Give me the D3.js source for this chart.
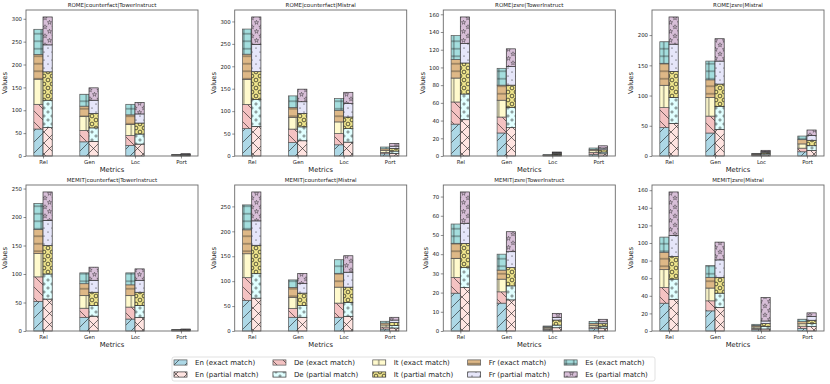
<!DOCTYPE html>
<html>
<head>
<meta charset="utf-8">
<script src="https://cdn.jsdelivr.net/npm/d3@7"></script>
<style>
  body { margin: 0; background: #fff; }
  text { font-family: "DejaVu Sans", sans-serif; }
</style>
</head>
<body>
<div id="cont"></div>
<script>
var metrics = ["Rel", "Gen", "Loc", "Port"];
var langs = ["En", "De", "It", "Fr", "Es"];
var titles = [
  "ROME|counterfact|TowerInstruct", "ROME|counterfact|Mistral",
  "ROME|zsre|TowerInstruct", "ROME|zsre|Mistral",
  "MEMIT|counterfact|TowerInstruct", "MEMIT|counterfact|Mistral",
  "MEMIT|zsre|TowerInstruct", "MEMIT|zsre|Mistral"
];
var yStep = [50, 50, 20, 50, 50, 50, 10, 20];

// rows = Rel, Gen, Loc, Port ; columns = En, De, It, Fr, Es (stacked bottom->top)
var romeCfTowerExact   = [[59, 54, 55, 54, 55], [31, 25, 30, 23, 26], [23, 22, 24, 21, 23], [0.7, 0.7, 0.7, 0.7, 0.7]];
var romeCfTowerPartial = [[62, 60, 62, 59, 61], [32, 29.5, 31.5, 29, 27], [26, 22, 24, 20, 25], [1, 1, 1, 1, 1]];
var romeCfMistralExact   = [[61, 54, 56, 56, 56], [30, 30, 26, 22, 26], [25, 25, 26, 26, 26], [5, 3, 4, 4, 4]];
var romeCfMistralPartial = [[66, 60, 62, 61, 61], [34, 31, 30, 26, 28], [31, 30, 26, 30, 25], [6, 5, 6, 5, 6]];
var romeZsreTowerExact   = [[36, 25, 27, 21, 27], [26, 18, 19, 17, 19], [0.3, 0.3, 0.3, 0.3, 0.3], [2, 2, 2, 1.5, 1.5]];
var romeZsreTowerPartial = [[41, 29, 35, 22, 30], [32, 23, 25, 21, 20], [1, 0.8, 1, 0.8, 0.9], [2.5, 2, 2.5, 2, 2.5]];
var romeZsreMistralExact   = [[47, 33, 37, 36, 36], [38, 28, 31, 29, 31], [0.9, 0.9, 0.9, 0.9, 0.8], [7, 6, 7, 7, 6]];
var romeZsreMistralPartial = [[54, 43, 43, 45, 45], [44, 38, 37, 38, 37], [1.9, 1.9, 1.8, 1.9, 1.9], [9, 8, 9, 8, 9]];
var memitCfTowerExact   = [[52, 43, 41, 42, 46], [24, 16, 22, 21, 19], [21, 21, 20, 19, 21], [0.5, 0.5, 0.5, 0.5, 0.5]];
var memitCfTowerPartial = [[56, 44, 50, 44, 50], [26, 19, 23, 21, 23], [24, 21, 23, 21, 20], [0.7, 0.7, 0.7, 0.7, 0.7]];
var memitCfMistralExact   = [[61, 46, 48, 48, 50], [27.5, 18, 22, 20, 15], [27.5, 28.5, 32, 27, 28], [4, 4, 4, 4, 3.5]];
var memitCfMistralPartial = [[66, 49, 57, 49, 58], [27.5, 23.5, 25, 19, 20.5], [29.5, 28, 30.5, 30, 33], [6, 5, 6, 5, 5.5]];
var memitZsreTowerExact   = [[19.7, 8.2, 9.9, 7.8, 10.1], [14.5, 5.9, 6.6, 4.7, 8.3], [0.5, 0.5, 0.6, 0.5, 0.5], [1.2, 0.8, 1, 1, 1]];
var memitZsreTowerPartial = [[22.6, 10.4, 12.6, 10.5, 16.3], [16.2, 7.3, 9.5, 8.3, 10.4], [1.7, 1.4, 2.6, 1.3, 2.2], [1.5, 1, 1.3, 1, 1.3]];
var memitZsreMistralExact   = [[31.6, 17.9, 20.2, 19.8, 17.2], [22.9, 11.4, 14.5, 12.2, 13.3], [1.6, 1.4, 1.6, 1.5, 1.5], [3, 2.5, 2.7, 2.4, 2.8]];
var memitZsreMistralPartial = [[36, 23, 25.6, 24, 49.4], [26.7, 16.3, 18, 19.8, 20.2], [2.3, 3, 3.1, 3, 26.6], [5, 3.4, 3.8, 4.2, 4.2]];

var exactData = [romeCfTowerExact, romeCfMistralExact, romeZsreTowerExact, romeZsreMistralExact,
                 memitCfTowerExact, memitCfMistralExact, memitZsreTowerExact, memitZsreMistralExact];
var partialData = [romeCfTowerPartial, romeCfMistralPartial, romeZsreTowerPartial, romeZsreMistralPartial,
                   memitCfTowerPartial, memitCfMistralPartial, memitZsreTowerPartial, memitZsreMistralPartial];

// style per language
var exactColors   = ["#add8e6", "#f4c2c2", "#fffacd", "#deb887", "#a4dede"];
var partialColors = ["#ffe4e1", "#e0ffff", "#f0e68c", "#e6e6fa", "#d8bfd8"];
var exactHatch   = ["/", "\\", "|", "-", "+"];
var partialHatch = ["x", "o", "O", ".", "*"];

var W = 830, H = 384;
var panelLeft = [26, 234.7, 443.3, 652];
var panelTop = [10, 185];
var pw = 172, ph = 146;
var barW = 0.2;

var svg = d3.select("#cont").append("svg")
  .attr("width", W).attr("height", H);

var defs = svg.append("defs");
var hc = "#1a1a1a";

function makePattern(id, color, hatch) {
  var t = (hatch == "/" || hatch == "\\" || hatch == "x") ? 11
        : (hatch == "*") ? 9
        : (hatch == "o" || hatch == "O" || hatch == ".") ? 8 : 7.5;
  var p = defs.append("pattern").attr("id", id)
    .attr("patternUnits", "userSpaceOnUse")
    .attr("width", t).attr("height", t);
  p.append("rect").attr("width", t).attr("height", t).attr("fill", color);
  var g = p.append("g").attr("stroke", hc).attr("stroke-width", 0.6).attr("fill", "none");
  var fwd = "M0," + t + "L" + t + ",0M" + (-t / 2) + "," + (t / 2) + "L" + (t / 2) + "," + (-t / 2) +
            "M" + (t / 2) + "," + (t * 1.5) + "L" + (t * 1.5) + "," + (t / 2);
  var bwd = "M0,0L" + t + "," + t + "M" + (-t / 2) + "," + (t / 2) + "L" + (t / 2) + "," + (t * 1.5) +
            "M" + (t / 2) + "," + (-t / 2) + "L" + (t * 1.5) + "," + (t / 2);
  var pts = [[0, 0], [t, 0], [0, t], [t, t], [t / 2, t / 2]];
  if (hatch == "/") g.append("path").attr("d", fwd);
  else if (hatch == "\\") g.append("path").attr("d", bwd);
  else if (hatch == "x") g.append("path").attr("d", fwd + bwd);
  else if (hatch == "|") g.append("path").attr("d", "M" + t / 2 + ",0V" + t);
  else if (hatch == "-") g.append("path").attr("d", "M0," + t / 2 + "H" + t);
  else if (hatch == "+") g.append("path").attr("d", "M" + t / 2 + ",0V" + t + "M0," + t / 2 + "H" + t);
  else if (hatch == "o" || hatch == "O") {
    pts.forEach(function(q) {
      g.append("circle").attr("cx", q[0]).attr("cy", q[1]).attr("r", hatch == "o" ? 1.1 : 1.9)
        .attr("stroke-width", hatch == "o" ? 0.5 : 0.7);
    });
  } else if (hatch == ".") {
    pts.forEach(function(q) {
      g.append("circle").attr("cx", q[0]).attr("cy", q[1]).attr("r", 0.55).attr("fill", hc).attr("stroke", "none");
    });
  } else if (hatch == "*") {
    var star = d3.symbol().type(d3.symbolStar).size(6)();
    pts.forEach(function(q) {
      g.append("path").attr("d", star).attr("stroke-width", 0.4)
        .attr("transform", "translate(" + q[0] + "," + q[1] + ")");
    });
  }
}

langs.forEach(function(l, i) {
  makePattern("ex" + i, exactColors[i], exactHatch[i]);
  makePattern("pa" + i, partialColors[i], partialHatch[i]);
});

for (var p = 0; p < 8; p++) {
  var col = p % 4, row = Math.floor(p / 4);
  var x0 = panelLeft[col], y0 = panelTop[row];
  var ex = exactData[p], pa = partialData[p];
  var maxV = d3.max(ex.concat(pa), function(r) { return d3.sum(r); });

  var x = d3.scaleLinear().domain([-0.37, 3.37]).range([x0, x0 + pw]);
  var y = d3.scaleLinear().domain([0, maxV * 1.05]).range([y0 + ph, y0]);

  var g = svg.append("g");

  [[ex, "ex", -barW, "#555"], [pa, "pa", 0, "#333"]].forEach(function(set) {
    var segs = [];
    set[0].forEach(function(vals, mi) {
      var cum = d3.cumsum(vals);
      vals.forEach(function(v, li) {
        segs.push({ m: mi, l: li, y1: cum[li] - v, y2: cum[li] });
      });
    });
    g.selectAll("rect." + set[1])
      .data(segs)
      .enter()
      .append("rect")
      .attr("class", set[1])
      .attr("x", function(d) { return x(d.m + set[2]); })
      .attr("width", x(barW) - x(0))
      .attr("y", function(d) { return y(d.y2); })
      .attr("height", function(d) { return y(d.y1) - y(d.y2); })
      .attr("fill", function(d) { return "url(#" + set[1] + d.l + ")"; })
      .attr("stroke", set[3])
      .attr("stroke-width", 0.7);
  });

  // frame
  g.append("rect")
    .attr("x", x0).attr("y", y0).attr("width", pw).attr("height", ph)
    .attr("fill", "none").attr("stroke", "#6a6a6a").attr("stroke-width", 0.9);

  var ticks = d3.range(0, maxV * 1.05 + 0.001, yStep[p]);
  var yAxis = g.append("g")
    .attr("transform", "translate(" + x0 + ",0)")
    .call(d3.axisLeft(y).tickValues(ticks).tickSize(2.5).tickPadding(1.5));
  var xAxis = g.append("g")
    .attr("transform", "translate(0," + (y0 + ph) + ")")
    .call(d3.axisBottom(x).tickValues([0, 1, 2, 3]).tickFormat(function(i) { return metrics[i]; })
      .tickSize(2.5).tickPadding(1.5));
  [yAxis, xAxis].forEach(function(a) {
    a.select(".domain").remove();
    a.selectAll("line").attr("stroke", "#444").attr("stroke-width", 0.6);
    a.selectAll("text").attr("font-size", 5.4).attr("fill", "#222")
      .style("font-family", "'DejaVu Sans', sans-serif");
  });

  var tw = 0;
  yAxis.selectAll("text").each(function() { tw = Math.max(tw, this.getComputedTextLength()); });

  g.append("text")
    .attr("x", (x0 + x0 + pw) / 2).attr("y", y0 - 3)
    .attr("text-anchor", "middle").attr("font-size", 5.5).attr("fill", "#222")
    .text(titles[p]);

  g.append("text")
    .attr("x", (x0 + x0 + pw) / 2).attr("y", y0 + ph + 16)
    .attr("text-anchor", "middle").attr("font-size", 6.8).attr("fill", "#222")
    .text("Metrics");

  var lx = x0 - 2.5 - 1.5 - tw - 4.5;
  g.append("text")
    .attr("transform", "translate(" + lx + "," + (y0 + ph / 2) + ") rotate(-90)")
    .attr("text-anchor", "middle").attr("font-size", 6.8).attr("fill", "#222")
    .text("Values");
}

// legend
var leg = svg.append("g");
leg.append("rect")
  .attr("x", 172).attr("y", 357).attr("width", 483).attr("height", 24)
  .attr("rx", 2).attr("fill", "#fff").attr("stroke", "#d9d9d9").attr("stroke-width", 0.8);

var lxPos = 174;
langs.forEach(function(l, i) {
  var rows = [[l + " (exact match)", "ex", "#555"], [l + " (partial match)", "pa", "#333"]];
  var maxW = 0;
  rows.forEach(function(r, ri) {
    var cy = 362.5 + ri * 12;
    leg.append("rect")
      .attr("x", lxPos).attr("y", cy - 2.6).attr("width", 13).attr("height", 5.2)
      .attr("fill", "url(#" + r[1] + i + ")").attr("stroke", r[2]).attr("stroke-width", 0.7);
    var t = leg.append("text")
      .attr("x", lxPos + 21).attr("y", cy).attr("dy", "0.35em")
      .attr("font-size", 7).attr("fill", "#222")
      .text(r[0]);
    maxW = Math.max(maxW, t.node().getComputedTextLength());
  });
  lxPos += 21 + maxW + 14.5;
});
</script>
</body>
</html>
